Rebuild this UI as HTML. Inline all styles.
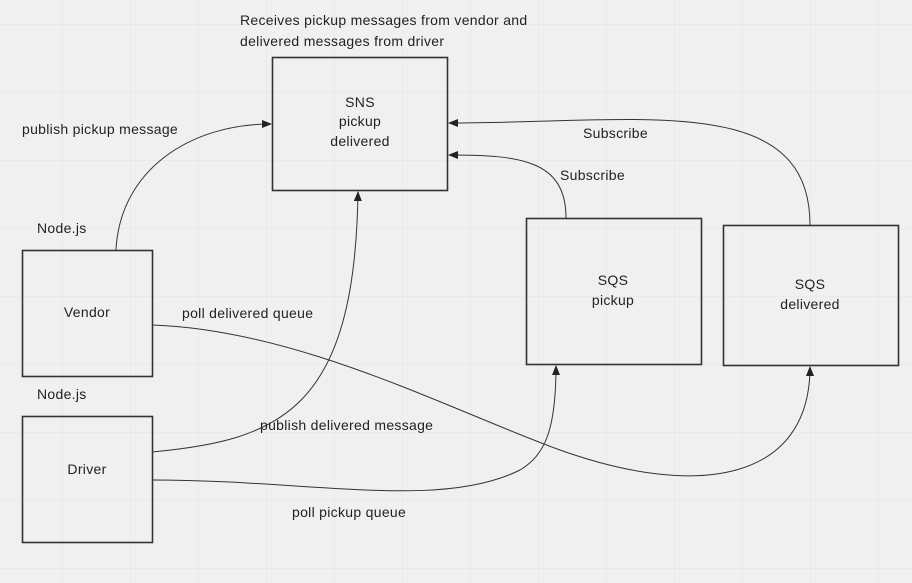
<!DOCTYPE html>
<html><head><style>
body{margin:0;width:912px;height:583px;overflow:hidden;background:#f0f0f0;font-family:"Liberation Sans",sans-serif;}
svg{position:absolute;left:0;top:0}
text{font-family:"Liberation Sans",sans-serif;font-size:14px;letter-spacing:0.3px;fill:#222}
</style></head><body>
<svg width="912" height="583">
<defs>
<pattern id="g" x="62" y="24" width="68" height="68" patternUnits="userSpaceOnUse">
<path d="M0 0H68M0 0V68" stroke="#e4e4e4" stroke-width="1" fill="none"/>
</pattern>
<marker id="a" markerWidth="10" markerHeight="8" refX="9" refY="4" orient="auto" markerUnits="userSpaceOnUse">
<path d="M0 0L10 4L0 8z" fill="#222"/>
</marker>
</defs>
<rect width="912" height="583" fill="url(#g)"/>
<g fill="none" stroke="#333" stroke-width="1.6">
<rect x="272.5" y="57.5" width="175" height="133"/>
<rect x="22.5" y="250.5" width="130" height="126"/>
<rect x="22.5" y="416.5" width="130" height="126"/>
<rect x="526.5" y="218.5" width="175" height="146"/>
<rect x="723.5" y="225.5" width="175" height="140"/>
</g>
<g fill="none" stroke="#333" stroke-width="1" marker-end="url(#a)">
<path d="M116 250C120 170 190 124 271 124"/>
<path d="M566 218C566 160 520 155 449 155"/>
<path d="M810 225C810 90 640 123 449 123"/>
<path d="M152 452C280 440 355 410 358 192"/>
<path d="M152 480C310 480 440 510 520 470C545 455 556 430 556 366"/>
<path d="M152 325C300 330 450 410 560 450C700 500 810 480 810 367"/>
</g>
<text x="240" y="25">Receives pickup messages from vendor and</text>
<text x="240" y="46">delivered messages from driver</text>
<text x="360" y="107" text-anchor="middle">SNS</text>
<text x="360" y="126" text-anchor="middle">pickup</text>
<text x="360" y="146" text-anchor="middle">delivered</text>
<text x="22" y="134">publish pickup message</text>
<text x="37" y="233">Node.js</text>
<text x="37" y="399">Node.js</text>
<text x="87" y="317" text-anchor="middle">Vendor</text>
<text x="87" y="474" text-anchor="middle">Driver</text>
<text x="182" y="318">poll delivered queue</text>
<text x="260" y="430">publish delivered message</text>
<text x="292" y="517">poll pickup queue</text>
<text x="583" y="138">Subscribe</text>
<text x="560" y="180">Subscribe</text>
<text x="613" y="285" text-anchor="middle">SQS</text>
<text x="613" y="305" text-anchor="middle">pickup</text>
<text x="810" y="289" text-anchor="middle">SQS</text>
<text x="810" y="309" text-anchor="middle">delivered</text>
</svg>
</body></html>
